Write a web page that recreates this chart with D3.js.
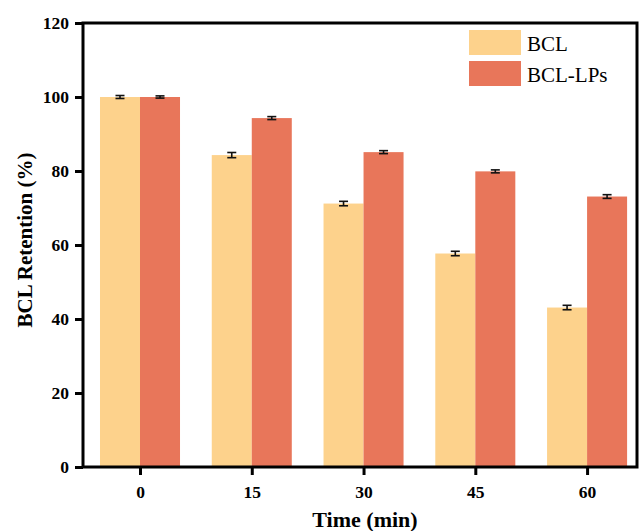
<!DOCTYPE html>
<html><head><meta charset="utf-8">
<script src="https://cdn.jsdelivr.net/npm/d3@7"></script>
<style>body{margin:0;background:#fff}svg{display:block}</style>
</head><body>
<svg id="c" width="643" height="531"></svg>
<script>
const times = [0, 15, 30, 45, 60];
const seriesNames = ["BCL", "BCL-LPs"];
const bclValues = [100.0, 84.3, 71.2, 57.7, 43.1];
const bclErrors = [0.4, 0.7, 0.6, 0.6, 0.6];
const lpsValues = [100.0, 94.3, 85.1, 79.9, 73.1];
const lpsErrors = [0.3, 0.4, 0.4, 0.4, 0.5];
const yTicks = [0, 20, 40, 60, 80, 100, 120];
const colors = ["#FDD28C", "#E8765A"];

const svg = d3.select("#c");
const L = 83, R = 637, T = 23, B = 467;
const x = d3.scaleLinear().domain([-7.65, 66.7]).range([L, R]);
const y = d3.scaleLinear().domain([0, 120]).range([B, T]);
const barW = x(5.37) - x(0);
const font = "'Liberation Serif','Times New Roman',serif";

const series = [
  {name: seriesNames[0], values: bclValues, errors: bclErrors, color: colors[0], off: -1},
  {name: seriesNames[1], values: lpsValues, errors: lpsErrors, color: colors[1], off: 0}
];

series.forEach(s => {
  const g = svg.append("g");
  g.selectAll("rect").data(times).enter().append("rect")
    .attr("x", (t) => x(t) + s.off * barW)
    .attr("y", (t, i) => y(s.values[i]))
    .attr("width", barW)
    .attr("height", (t, i) => y(0) - y(s.values[i]))
    .attr("fill", s.color);
});

// error bars
series.forEach(s => {
  const g = svg.append("g").attr("stroke", "#111").attr("stroke-width", 1.6);
  times.forEach((t, i) => {
    const cx = x(t) + s.off * barW + barW / 2;
    const y1 = y(s.values[i] + s.errors[i]), y2 = y(s.values[i] - s.errors[i]);
    g.append("line").attr("x1", cx).attr("x2", cx).attr("y1", y1).attr("y2", y2);
    g.append("line").attr("x1", cx - 4.5).attr("x2", cx + 4.5).attr("y1", y1).attr("y2", y1);
    g.append("line").attr("x1", cx - 4.5).attr("x2", cx + 4.5).attr("y1", y2).attr("y2", y2);
  });
});

// frame
svg.append("rect").attr("x", L).attr("y", T).attr("width", R - L).attr("height", B - T)
  .attr("fill", "none").attr("stroke", "#000").attr("stroke-width", 3);

// axes
const yAxis = svg.append("g").attr("transform", `translate(${L},0)`)
  .call(d3.axisLeft(y).tickValues(yTicks).tickSize(8).tickPadding(6));
const xAxis = svg.append("g").attr("transform", `translate(0,${B})`)
  .call(d3.axisBottom(x).tickValues(times).tickSize(8).tickPadding(11));
[yAxis, xAxis].forEach(a => {
  a.select(".domain").remove();
  a.selectAll(".tick line").attr("stroke", "#000").attr("stroke-width", 3);
  a.selectAll(".tick text").attr("font-family", font).attr("font-weight", "bold")
    .attr("font-size", 17.5).attr("fill", "#000");
});

// axis titles
svg.append("text").attr("x", 365).attr("y", 527).attr("text-anchor", "middle")
  .attr("font-family", font).attr("font-weight", "bold").attr("font-size", 22).text("Time (min)");
svg.append("text").attr("transform", "translate(32,240) rotate(-90)").attr("text-anchor", "middle")
  .attr("font-family", font).attr("font-weight", "bold").attr("font-size", 21).text("BCL Retention (%)");

// legend
const lg = svg.append("g");
series.forEach((s, i) => {
  lg.append("rect").attr("x", 469).attr("y", 30 + i * 31).attr("width", 52).attr("height", 25).attr("fill", s.color);
  lg.append("text").attr("x", 527).attr("y", 51 + i * 31).attr("font-family", font)
    .attr("font-size", 21).attr("fill", "#000").text(s.name);
});
</script>
</body></html>
